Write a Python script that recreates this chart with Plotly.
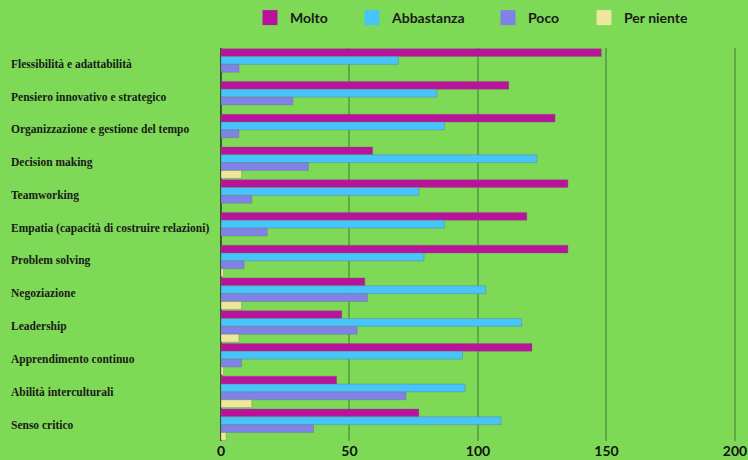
import plotly.graph_objects as go

# Survey data: how much each skill is considered important
skills = [
    "Flessibilità e adattabilità",
    "Pensiero innovativo e strategico",
    "Organizzazione e gestione del tempo",
    "Decision making",
    "Teamworking",
    "Empatia (capacità di costruire relazioni)",
    "Problem solving",
    "Negoziazione",
    "Leadership",
    "Apprendimento continuo",
    "Abilità interculturali",
    "Senso critico",
]
molto = [148, 112, 130, 59, 135, 119, 135, 56, 47, 121, 45, 77]
abbastanza = [69, 84, 87, 123, 77, 87, 79, 103, 117, 94, 95, 109]
poco = [7, 28, 7, 34, 12, 18, 9, 57, 53, 8, 72, 36]
per_niente = [0, 0, 0, 8, 0, 0, 1, 8, 7, 1, 12, 2]

series_names = ["Molto", "Abbastanza", "Poco", "Per niente"]
series_values = [molto, abbastanza, poco, per_niente]
colors = ["#b9139c", "#47c4fa", "#7f83e8", "#ede79b"]

x_ticks = [0, 50, 100, 150, 200]

BG = "#7ed957"
GRID = "#5ea846"

W, H = 748, 460
ML, MR, MT, MB = 221, 12, 48, 19
PLOT_W = W - ML - MR

fig = go.Figure()

for name, vals, col in zip(series_names, series_values, colors):
    fig.add_trace(go.Bar(
        y=skills, x=vals, name=name, orientation="h",
        marker=dict(color=col, line=dict(color="rgba(110,110,110,0.45)", width=0.8)),
        showlegend=False,
    ))

# One legend per series so each entry can be placed along the top row
legend_left_px = [250, 352, 488, 584]
legend_ids = ["legend", "legend2", "legend3", "legend4"]
for name, col, lid in zip(series_names, colors, legend_ids):
    fig.add_trace(go.Scatter(
        x=[None], y=[None], mode="markers", name=name, legend=lid,
        marker=dict(symbol="square", size=15, color=col),
        showlegend=True,
    ))

legend_style = dict(
    orientation="h", xref="container", yref="container",
    y=1 - 2 / H, xanchor="left", yanchor="top",
    font=dict(family="Lato", size=14, color="#1b1b1b", weight="bold"),
    bgcolor="rgba(0,0,0,0)",
)
for lid, px in zip(legend_ids, legend_left_px):
    fig.update_layout({lid: dict(legend_style, x=px / W)})

# Left-aligned category labels
for s in skills:
    fig.add_annotation(
        x=-(ML - 9) / PLOT_W, xref="paper", y=s, yref="y",
        text=s, showarrow=False, xanchor="left", yanchor="middle",
        font=dict(family="Liberation Serif", size=11.5, color="#1a1a1a", weight="bold"),
    )

fig.update_layout(
    width=W, height=H,
    margin=dict(l=ML, r=MR, t=MT, b=MB),
    paper_bgcolor=BG, plot_bgcolor=BG,
    barmode="group", bargap=0.04, bargroupgap=0.0,
    xaxis=dict(
        range=[0, 200.4], tickvals=x_ticks, automargin=False,
        showgrid=True, gridcolor=GRID, gridwidth=1.5,
        zeroline=True, zerolinecolor="#2f5a22", zerolinewidth=1.5,
        showline=False, ticks="",
        tickfont=dict(family="Lato", size=14, color="#111111", weight="bold"),
    ),
    yaxis=dict(
        autorange="reversed", showticklabels=False, showgrid=False,
        zeroline=False, ticks="", automargin=False,
    ),
)

fig.write_html("out.html")
